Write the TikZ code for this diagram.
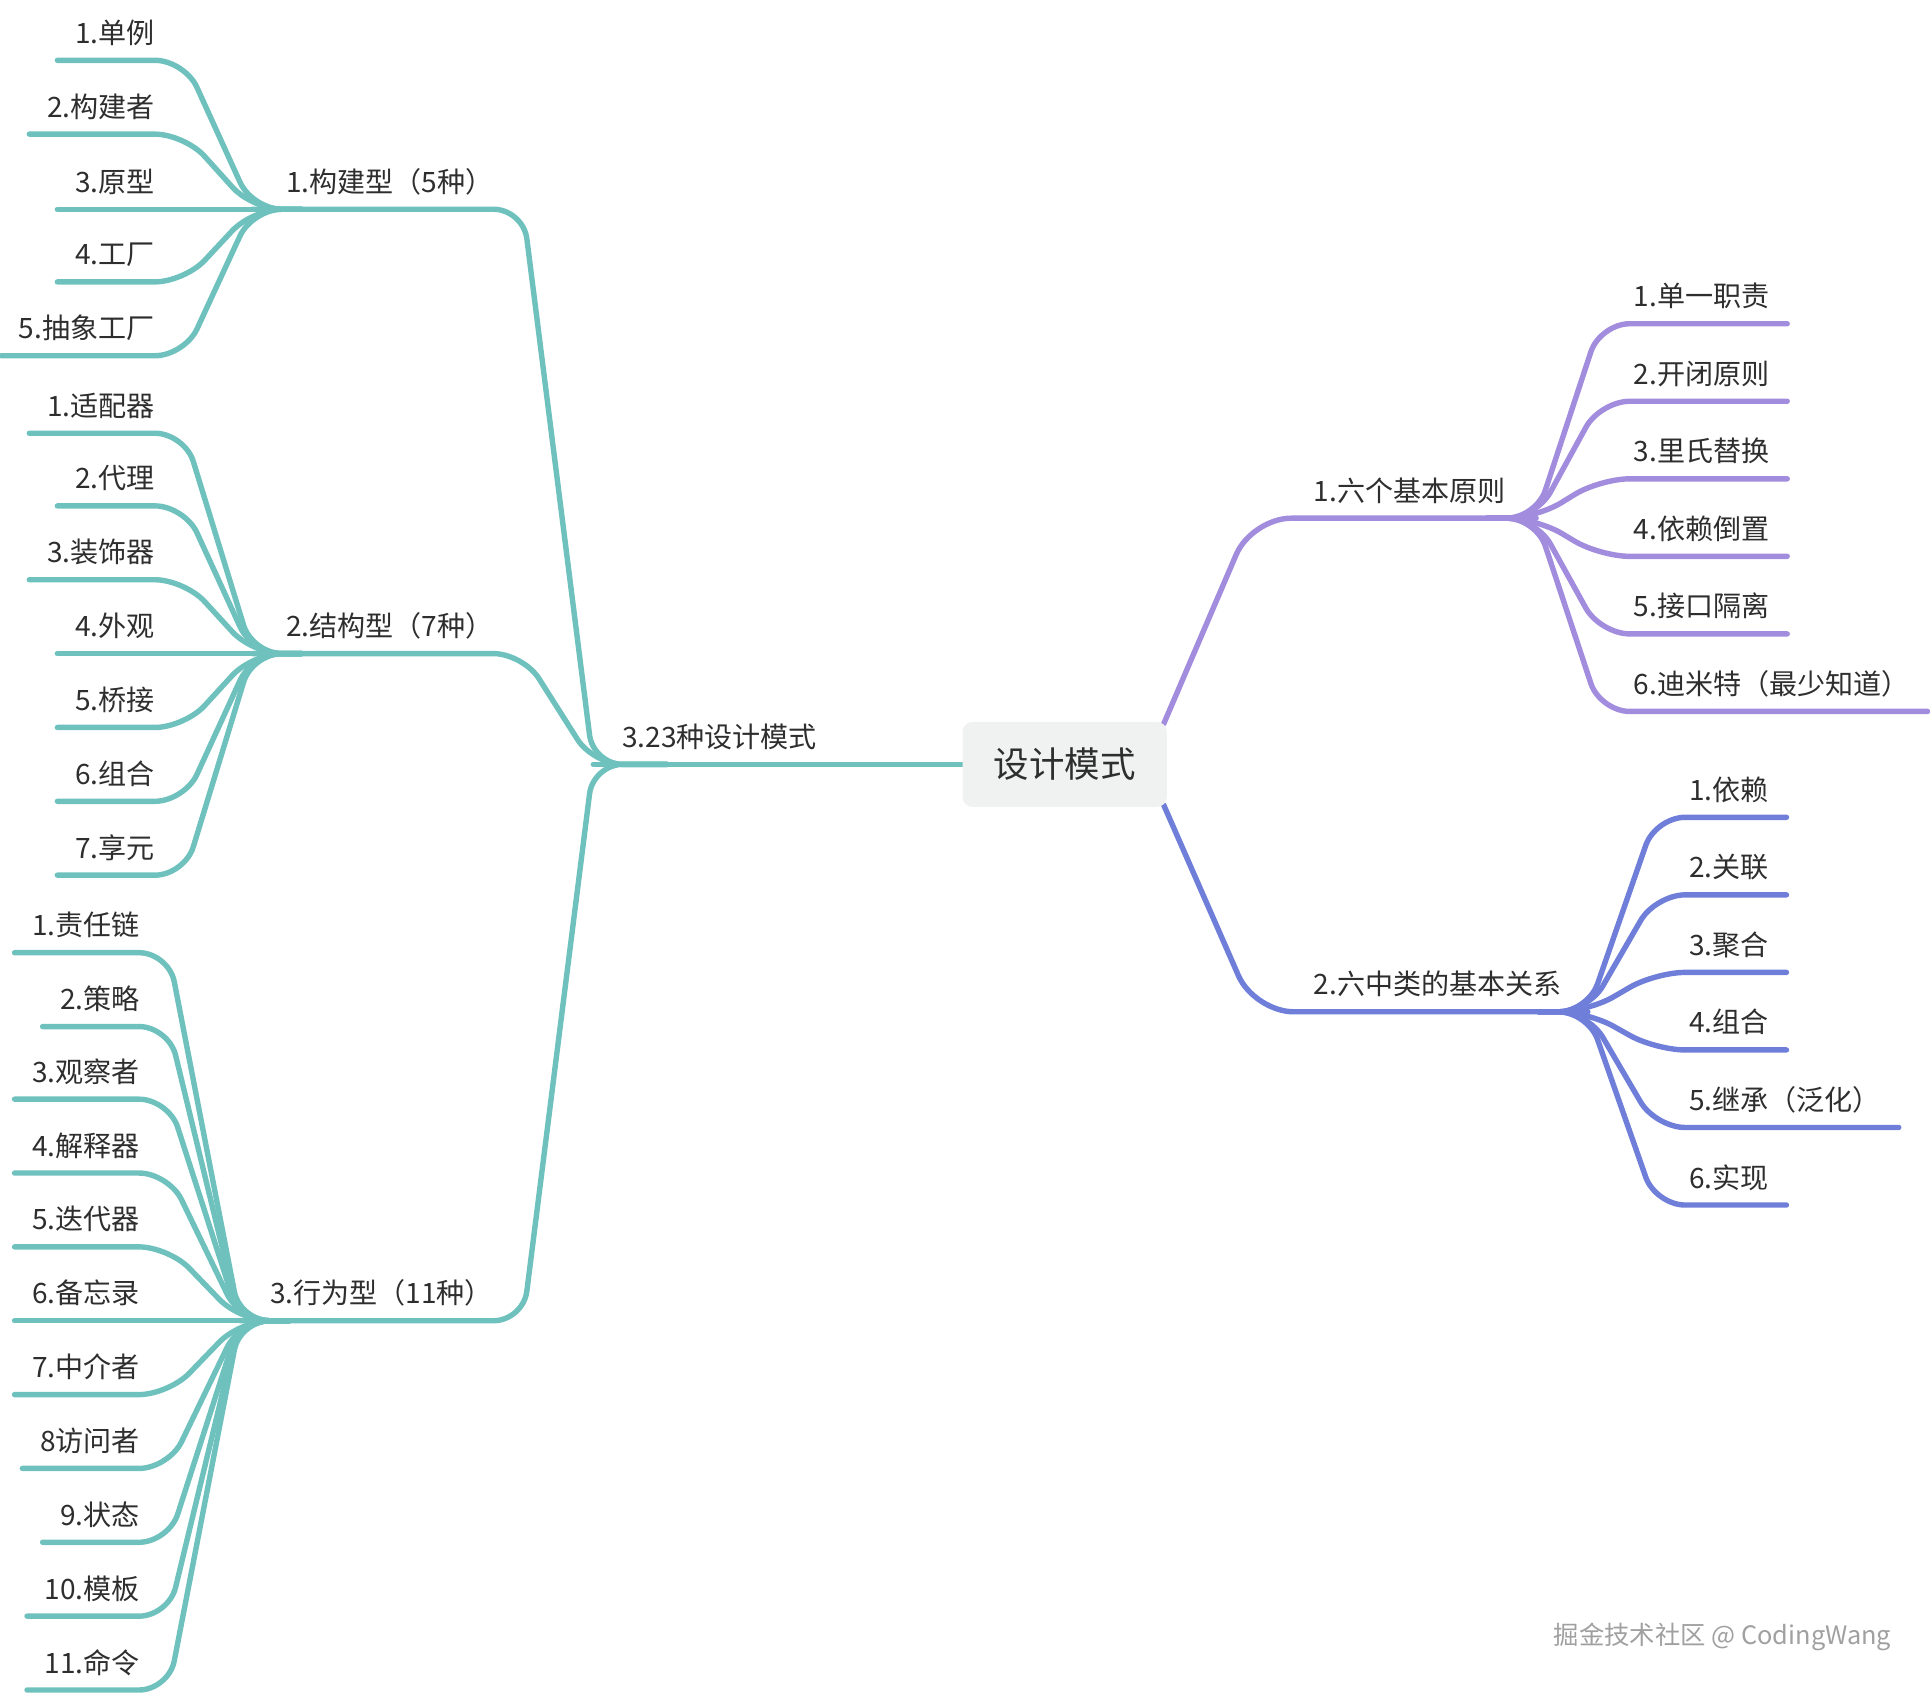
\documentclass[tikz,border=0pt]{standalone}
\usepackage{fontspec}
\setmainfont{Noto Sans CJK SC}
\usetikzlibrary{calc}
\pgfdeclarelayer{bg}
\pgfsetlayers{bg,main}
\definecolor{tealc}{HTML}{6EC1BD}
\definecolor{purc}{HTML}{A18CDD}
\definecolor{bluec}{HTML}{6F7ED8}
\definecolor{txt}{HTML}{2E2E2E}
\definecolor{rootfill}{HTML}{F0F1F1}
\definecolor{wmark}{HTML}{A0A0A0}
\begin{document}
\begin{tikzpicture}[x=0.5pt,y=-0.5pt,
  conn/.style={line width=2.2pt, line cap=round, line join=round, rounded corners=12pt},
  tl/.style={conn, draw=tealc},
  pl/.style={conn, draw=purc},
  bl/.style={conn, draw=bluec},
  leaf/.style={font=\fontsize{11.4pt}{13pt}\selectfont, text=txt, inner xsep=7pt, inner ysep=4.4pt, text height=9.1pt, text depth=2.3pt},
  rootbox/.style={fill=rootfill, rounded corners=4pt, minimum width=83pt, minimum height=34.5pt, inner sep=0pt, text=txt, font=\fontsize{14.4pt}{17pt}\selectfont}
]
\useasboundingbox (0,0) rectangle (1568,1376);

% junctions
\coordinate (J0) at (482,621);
\coordinate (J1) at (205,170);
\coordinate (J2) at (205,531);
\coordinate (J3) at (195,1073);
\coordinate (J4) at (1248,421);
\coordinate (J5) at (1290,822);
\coordinate (C1) at (425,170);
\coordinate (C2) at (425,531);
\coordinate (C3) at (425,1073);
\coordinate (C4) at (1017,421);
\coordinate (C5) at (1019,822);

% group 1
\foreach \n/\y/\t in {a1/49/1.单例, a2/109/2.构建者, a3/170/3.原型, a4/229/4.工厂, a5/289/5.抽象工厂}{
  \node[leaf, anchor=south east] (\n) at (140,\y) {\t};
  \draw[tl] (\n.south west) -- ($(\n.south east)+(10,0)$) -- (J1) -- ($(J1)+(40,0)$);
}
% group 2
\foreach \n/\y/\t in {s1/352/1.适配器, s2/411/2.代理, s3/471/3.装饰器, s4/531/4.外观, s5/591/5.桥接, s6/651/6.组合, s7/711/7.享元}{
  \node[leaf, anchor=south east] (\n) at (140,\y) {\t};
  \draw[tl] (\n.south west) -- ($(\n.south east)+(10,0)$) -- (J2) -- ($(J2)+(40,0)$);
}
% group 3
\foreach \n/\y/\t in {h1/774/1.责任链, h2/834/2.策略, h3/893/3.观察者, h4/953/4.解释器, h5/1013/5.迭代器, h6/1073/6.备忘录, h7/1133/7.中介者, h8/1193/8访问者, h9/1253/9.状态, h10/1313/10.模板, h11/1373/11.命令}{
  \node[leaf, anchor=south east] (\n) at (128,\y) {\t};
  \draw[tl] (\n.south west) -- ($(\n.south east)+(9,0)$) -- (J3) -- ($(J3)+(40,0)$);
}

% level 1 left
\node[leaf, anchor=south west] (b1) at (218,170) {1.构建型（5种）};
\node[leaf, anchor=south west] (b2) at (218,531) {2.结构型（7种）};
\node[leaf, anchor=south west] (b3) at (205,1073) {3.行为型（11种）};
\node[leaf, anchor=south west] (b0) at (491,621) {3.23种设计模式};
\draw[tl] (J1) -- (C1) -- (J0) -- ($(J0)+(60,0)$);
\draw[tl] (J2) -- (C2) -- (J0) -- ($(J0)+(60,0)$);
\draw[tl] (J3) -- (C3) -- (J0) -- ($(J0)+(60,0)$);

% right purple
\foreach \n/\y/\t in {p1/263/1.单一职责, p2/326/2.开闭原则, p3/389/3.里氏替换, p4/452/4.依赖倒置, p5/515/5.接口隔离, p6/578/6.迪米特（最少知道）}{
  \node[leaf, anchor=south west] (\n) at (1313,\y) {\t};
  \draw[pl] ($(J4)+(-40,0)$) -- (J4) -- ($(\n.south west)+(-13,0)$) -- (\n.south east);
}
% right blue
\foreach \n/\y/\t in {q1/664/1.依赖, q2/727/2.关联, q3/790/3.聚合, q4/853/4.组合, q5/916/5.继承（泛化）, q6/979/6.实现}{
  \node[leaf, anchor=south west] (\n) at (1358,\y) {\t};
  \draw[bl] ($(J5)+(-40,0)$) -- (J5) -- ($(\n.south west)+(-13,0)$) -- (\n.south east);
}
\node[leaf, anchor=south west] (r1) at (1053,421) {1.六个基本原则};
\node[leaf, anchor=south west] (r2) at (1053,822) {2.六中类的基本关系};

% root
\node[rootbox] (root) at (865,621) {设计模式};
\begin{pgfonlayer}{bg}
\draw[tl] (root.west) -- (J0);
\draw[pl, rounded corners=16pt] ([xshift=-1.5pt,yshift=-1pt]root.north east) -- (C4) -- (J4);
\draw[bl, rounded corners=16pt] ([xshift=-1.5pt,yshift=1pt]root.south east) -- (C5) -- (J5);
\end{pgfonlayer}

% watermark
\node[font=\fontsize{10.3pt}{12pt}\selectfont, text=wmark, anchor=west, inner sep=0pt] (wm) at (1262,1330) {掘金技术社区 @ CodingWang};
\end{tikzpicture}
\end{document}
